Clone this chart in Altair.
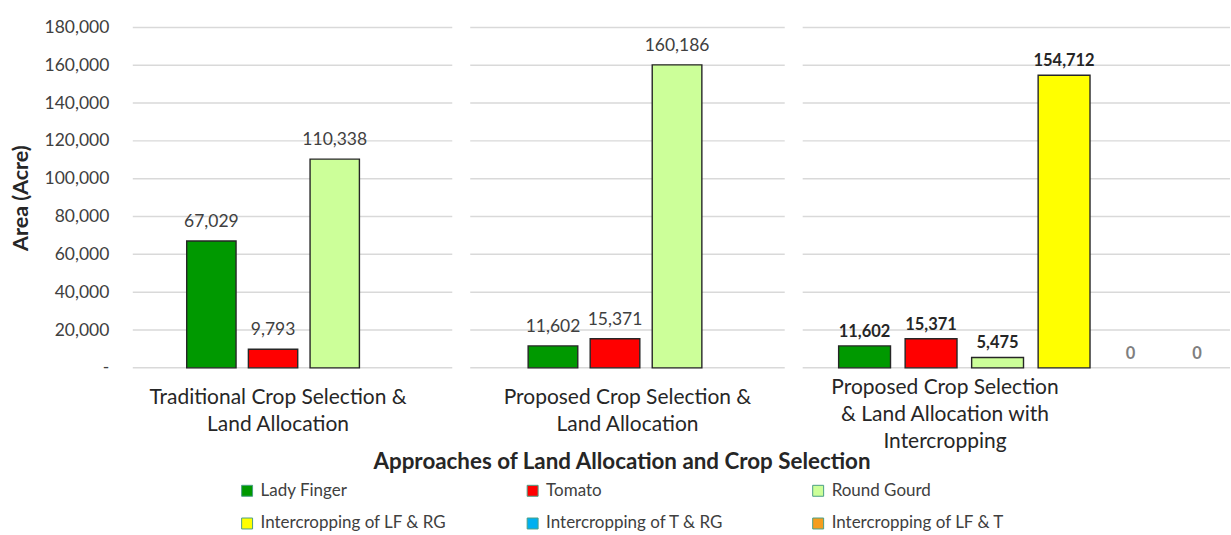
import altair as alt
import pandas as pd

# Approaches (one panel each) and crop series
approaches = [
    "Traditional Crop Selection & Land Allocation",
    "Proposed Crop Selection & Land Allocation",
    "Proposed Crop Selection & Land Allocation with Intercropping",
]
approach_lines = [
    ["Traditional Crop Selection &", "Land Allocation"],
    ["Proposed Crop Selection &", "Land Allocation"],
    ["Proposed Crop Selection", "& Land Allocation with", "Intercropping"],
]
crops = [
    "Lady Finger",
    "Tomato",
    "Round Gourd",
    "Intercropping of LF & RG",
    "Intercropping of T & RG",
    "Intercropping of LF & T",
]
crop_colors = ["#009900", "#ff0000", "#ccff99", "#ffff00", "#00b0f0", "#f59d1e"]

# Area (acre) per approach; each list follows the crop order above
traditional_area = [67029, 9793, 110338]
proposed_area = [11602, 15371, 160186]
intercropping_area = [11602, 15371, 5475, 154712, 0, 0]

y_ticks = [0, 20000, 40000, 60000, 80000, 100000, 120000, 140000, 160000, 180000]

area_lists = [traditional_area, proposed_area, intercropping_area]
rows = []
for approach, areas in zip(approaches, area_lists):
    for crop, area in zip(crops, areas):
        rows.append({"approach": approach, "crop": crop, "area": area})
df = pd.DataFrame(rows)
grid_df = pd.DataFrame({"tick": y_ticks})

FONT = "Lato"
GRID = "#d9d9d9"
Y_SCALE = alt.Scale(domain=[0, 180000], nice=False)

color_enc = alt.Color(
    "crop:N",
    scale=alt.Scale(domain=crops, range=crop_colors),
    legend=alt.Legend(
        title="Approaches of Land Allocation and Crop Selection",
        titleFont=FONT,
        titleFontSize=22.4,
        titleFontWeight="bold",
        titleColor="#262626",
        titleAnchor="middle",
        titleLimit=900,
        titlePadding=9,
        orient="none",
        direction="horizontal",
        legendX=106,
        legendY=424,
        columns=3,
        gridAlign="all",
        columnPadding=77,
        rowPadding=15,
        symbolType="square",
        symbolSize=120,
        symbolStrokeColor="#4a9f86",
        symbolStrokeWidth=1,
        labelFont=FONT,
        labelFontSize=17,
        labelColor="#404040",
        labelOffset=5,
        labelLimit=400,
    ),
)


def panel(i, width, band_range, padding_inner, title_x, title_pad, first, bold_labels):
    n = len(area_lists[i])
    domain = crops[:n]
    sub = df[df["approach"] == approaches[i]]
    x_enc = alt.X(
        "crop:N",
        sort=domain,
        scale=alt.Scale(
            domain=domain,
            range=band_range,
            paddingInner=padding_inner,
            paddingOuter=0,
        ),
        axis=alt.Axis(
            labels=False,
            ticks=False,
            domain=False,
            grid=False,
            title=approach_lines[i],
            titleFont=FONT,
            titleFontSize=21,
            titleFontWeight="normal",
            titleColor="#262626",
            titleLineHeight=27,
            titlePadding=title_pad,
            titleX=title_x,
        ),
    )
    if first:
        y_axis = alt.Axis(
            values=y_ticks,
            labelExpr="datum.value == 0 ? '-' : format(datum.value, ',')",
            labelFont=FONT,
            labelFontSize=17.5,
            labelColor="#404040",
            labelPadding=24,
            ticks=False,
            domain=False,
            grid=False,
            title="Area (Acre)",
            titleFont=FONT,
            titleFontSize=21.5,
            titleFontWeight="bold",
            titleColor="#262626",
            titlePadding=12,
        )
    else:
        y_axis = None

    # horizontal gridlines across the full panel width
    grid = alt.Chart(grid_df).mark_rule(color=GRID, strokeWidth=1.5).encode(
        y=alt.Y("tick:Q", scale=Y_SCALE, axis=y_axis),
        x=alt.value(0),
        x2=alt.value(width),
    )

    base = alt.Chart(sub).encode(
        x=x_enc, y=alt.Y("area:Q", scale=Y_SCALE, axis=y_axis)
    )
    bars = (
        base.transform_filter(alt.datum.area > 0)
        .mark_bar(stroke="#262626", strokeWidth=1.4)
        .encode(color=color_enc)
    )
    if bold_labels:
        labels = base.mark_text(
            baseline="bottom", dy=-6, font=FONT, fontSize=16.5, fontWeight="bold"
        ).encode(
            text=alt.Text("area:Q", format=","),
            color=alt.condition(alt.datum.area == 0, alt.value("#7f7f7f"), alt.value("#262626")),
        )
    else:
        labels = base.mark_text(
            baseline="bottom", dy=-10, font=FONT, fontSize=17.5, color="#404040"
        ).encode(text=alt.Text("area:Q", format=","))
    return (grid + bars + labels).properties(width=width, height=341)


p1 = panel(0, 320, [54, 227], 0.2, 145, 19, True, False)
p2 = panel(1, 315, [58, 232], 0.2, 157, 19, False, False)
p3 = panel(2, 428, [36, 421], 0.22, 142, 8.5, False, True)

chart = (
    alt.hconcat(p1, p2, p3, spacing=16)
    .properties(
        background="white",
        padding={"left": 10, "top": 18, "right": 0, "bottom": 5},
    )
    .configure_view(stroke=None, strokeWidth=0)
)

chart.save("out.html", embed_options={"renderer": "svg", "actions": False})
